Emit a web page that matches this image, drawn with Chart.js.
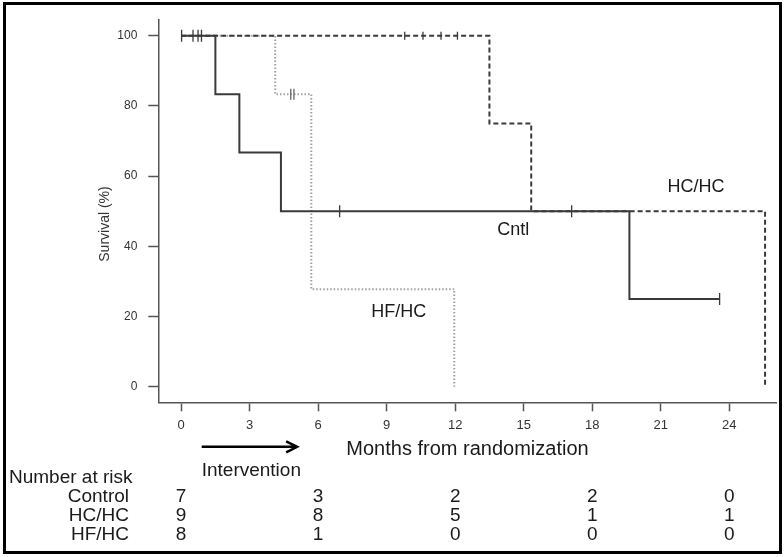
<!DOCTYPE html>
<html>
<head>
<meta charset="utf-8">
<script src="https://cdn.jsdelivr.net/npm/chart.js@4.4.0/dist/chart.umd.min.js"></script>
<style>
  html, body { margin: 0; padding: 0; background: #fff; }
  #wrap { position: relative; width: 784px; height: 557px; }
  #frame { position: absolute; left: 3px; top: 2px; width: 773px; height: 546px; border: 3px solid #000; pointer-events: none; }
</style>
</head>
<body>
<div id="wrap">
  <canvas id="km" width="784" height="557"></canvas>
  <div id="frame"></div>
</div>
<script>
// --- data ---
const monthTicks = [0, 3, 6, 9, 12, 15, 18, 21, 24];
const survTicks = [0, 20, 40, 60, 80, 100];

// step points: survival holds until the next time
const controlTimes = [0, 1.5, 2.55, 4.37, 19.63, 23.58];
const controlSurv  = [100, 83.3, 66.7, 50, 25, 25];
const hchcTimes = [0, 13.5, 15.33, 25.57];
const hchcSurv  = [100, 75, 50, 0];
const hfhcTimes = [0, 4.12, 5.7, 11.96];
const hfhcSurv  = [100, 83.3, 27.8, 0];

// censored observations
const controlCensorT = [0.02, 0.52, 0.74, 0.89, 6.94, 17.1, 23.58];
const controlCensorS = [100, 100, 100, 100, 50, 50, 25];
const hchcCensorT = [9.79, 10.59, 11.38, 12.1];
const hchcCensorS = [100, 100, 100, 100];
const hfhcCensorT = [4.8, 4.94];
const hfhcCensorS = [83.3, 83.3];

// curve labels
const curveLabels = ['Cntl', 'HC/HC', 'HF/HC'];
const labelMonth  = [13.84, 21.3, 8.33];
const labelSurv   = [44.6, 56.9, 21.3];

// number at risk table
const riskMonths = [0, 6, 12, 18, 24];
const riskGroups = ['Control', 'HC/HC', 'HF/HC'];
const riskControl = [7, 3, 2, 2, 0];
const riskHCHC    = [9, 8, 5, 1, 1];
const riskHFHC    = [8, 1, 0, 0, 0];

// intervention arrow (months)
const interventionStart = 0.9;
const interventionEnd = 5.08;

const FONT = '"Liberation Sans", Arial, sans-serif';
const pts = (t, s) => t.map((v, i) => ({ x: v, y: s[i] }));

const annotate = {
  id: 'annotate',
  afterDraw(chart) {
    const { ctx, chartArea } = chart;
    const x = chart.scales.x, y = chart.scales.y;
    const b = chartArea.bottom;
    ctx.save();
    ctx.fillStyle = '#1a1a1a';
    ctx.textBaseline = 'middle';

    // labels next to the curves
    ctx.font = '18px ' + FONT;
    ctx.textAlign = 'left';
    curveLabels.forEach((t, i) => {
      ctx.fillText(t, x.getPixelForValue(labelMonth[i]), y.getPixelForValue(labelSurv[i]));
    });

    // y title
    ctx.save();
    ctx.translate(105, 224);
    ctx.rotate(-Math.PI / 2);
    ctx.textAlign = 'center';
    ctx.font = '14px ' + FONT;
    ctx.fillStyle = '#333';
    ctx.fillText('Survival (%)', 0, 0);
    ctx.restore();

    // intervention arrow
    const ax0 = x.getPixelForValue(interventionStart);
    const ax1 = x.getPixelForValue(interventionEnd);
    const ay = b + 44.5;
    ctx.strokeStyle = '#000';
    ctx.lineWidth = 2.5;
    ctx.beginPath();
    ctx.moveTo(ax0, ay); ctx.lineTo(ax1, ay);
    ctx.moveTo(ax1 - 11, ay - 5.5); ctx.lineTo(ax1, ay); ctx.lineTo(ax1 - 11, ay + 5.5);
    ctx.stroke();

    ctx.font = '19px ' + FONT;
    ctx.textAlign = 'left';
    ctx.fillText('Intervention', ax0, b + 68);

    // number at risk
    ctx.fillText('Number at risk', 9, b + 75);
    const rows = [riskControl, riskHCHC, riskHFHC];
    rows.forEach((row, r) => {
      const ry = b + 94 + r * 19;
      ctx.textAlign = 'right';
      ctx.fillText(riskGroups[r], 129, ry);
      ctx.textAlign = 'center';
      row.forEach((n, k) => ctx.fillText(String(n), x.getPixelForValue(riskMonths[k]), ry));
    });
    ctx.restore();
  }
};

const censor = (t, s, r, color) => ({
  data: pts(t, s),
  showLine: false,
  pointStyle: 'line',
  rotation: 90,
  pointRadius: r,
  pointHoverRadius: r,
  pointBorderWidth: 1.3,
  borderColor: color,
  backgroundColor: color
});

const step = (t, s, color, width, dash) => ({
  data: pts(t, s),
  showLine: true,
  stepped: 'before',
  borderColor: color,
  borderWidth: width,
  borderDash: dash,
  pointRadius: 0,
  fill: false
});

new Chart(document.getElementById('km'), {
  type: 'scatter',
  data: {
    datasets: [
      censor(controlCensorT, controlCensorS, 6, '#3a3a3a'),
      step(controlTimes, controlSurv, '#3a3a3a', 2, []),
      censor(hchcCensorT, hchcCensorS, 4, '#3a3a3a'),
      step(hchcTimes, hchcSurv, '#3a3a3a', 2, [5, 3]),
      censor(hfhcCensorT, hfhcCensorS, 5.5, '#666'),
      step(hfhcTimes, hfhcSurv, '#a0a0a0', 2, [1.5, 2])
    ]
  },
  options: {
    responsive: false,
    devicePixelRatio: 1,
    animation: false,
    events: [],
    layout: { padding: { left: 0, top: 20, right: 2.3, bottom: 94.7 } },
    plugins: { legend: { display: false }, tooltip: { enabled: false } },
    scales: {
      x: {
        type: 'linear',
        min: -1.0,
        max: 26.08,
        afterBuildTicks: s => { s.ticks = monthTicks.map(v => ({ value: v })); },
        afterFit: s => { s.height = 60; },
        grid: { drawOnChartArea: false, drawTicks: true, tickLength: 9, color: '#555', tickWidth: 1.5 },
        border: { display: true, color: '#555', width: 1.5 },
        ticks: { font: { size: 13, family: FONT }, color: '#333', padding: 6, maxRotation: 0 },
        title: { display: true, text: 'Months from randomization', font: { size: 20, family: FONT }, color: '#1a1a1a', padding: { top: 0, bottom: 1 } }
      },
      y: {
        type: 'linear',
        min: -4.44,
        max: 104.47,
        afterBuildTicks: s => { s.ticks = survTicks.map(v => ({ value: v })); },
        afterFit: s => { s.width = 158.3; },
        grid: { drawOnChartArea: false, drawTicks: true, tickLength: 10, color: '#555', tickWidth: 1.5 },
        border: { display: true, color: '#555', width: 1.5 },
        ticks: { font: { size: 12, family: FONT }, color: '#333', padding: 11 }
      }
    }
  },
  plugins: [annotate]
});
</script>
</body>
</html>
